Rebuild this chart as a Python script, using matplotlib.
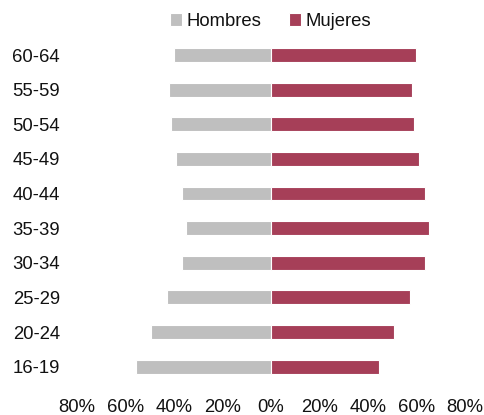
import matplotlib
matplotlib.use("Agg")
import matplotlib.pyplot as plt
from matplotlib.ticker import FixedLocator, FuncFormatter

categories = ["16-19", "20-24", "25-29", "30-34", "35-39", "40-44", "45-49", "50-54", "55-59", "60-64"]
hombres = [55.6, 49.2, 42.6, 36.6, 35.0, 36.5, 39.0, 41.0, 42.0, 40.0]
mujeres = [44.4, 50.8, 57.4, 63.4, 65.0, 63.5, 61.0, 59.0, 58.0, 60.0]
xticks = [-80, -60, -40, -20, 0, 20, 40, 60, 80]

plt.rcParams['font.family'] = ['Liberation Sans', 'DejaVu Sans']

fig = plt.figure(figsize=(4.84, 4.15), dpi=100)
ax = fig.add_axes([76.7/484, 1-384/415, 388.3/484, (384-37.7)/415])

y = list(range(len(categories)))
ax.barh(y, [-v for v in hombres], height=0.4, color="#BFBFBF", edgecolor="white", linewidth=0.8, label="Hombres")
ax.barh(y, mujeres, height=0.4, color="#A63F58", edgecolor="white", linewidth=0.8, label="Mujeres")

ax.set_xlim(-80, 80)
ax.set_ylim(-0.5, len(categories)-0.5)
ax.set_yticks(y)
ax.set_yticklabels(categories)
ax.xaxis.set_major_locator(FixedLocator(xticks))
ax.xaxis.set_major_formatter(FuncFormatter(lambda v, p: f"{abs(int(round(v)))}%"))
ax.tick_params(axis='both', length=0, labelsize=13.3, colors="#111111")
ax.tick_params(axis='y', pad=12)
ax.tick_params(axis='x', pad=11)
for s in ax.spines.values():
    s.set_visible(False)

fig.legend(loc='center', bbox_to_anchor=(270.5/484, 1-21.5/415), ncol=2, frameon=False,
           fontsize=13.3, handlelength=0.65, handleheight=0.65, handletextpad=0.25,
           columnspacing=1.5, labelcolor="#111111")

fig.savefig("out.png", dpi=100)
